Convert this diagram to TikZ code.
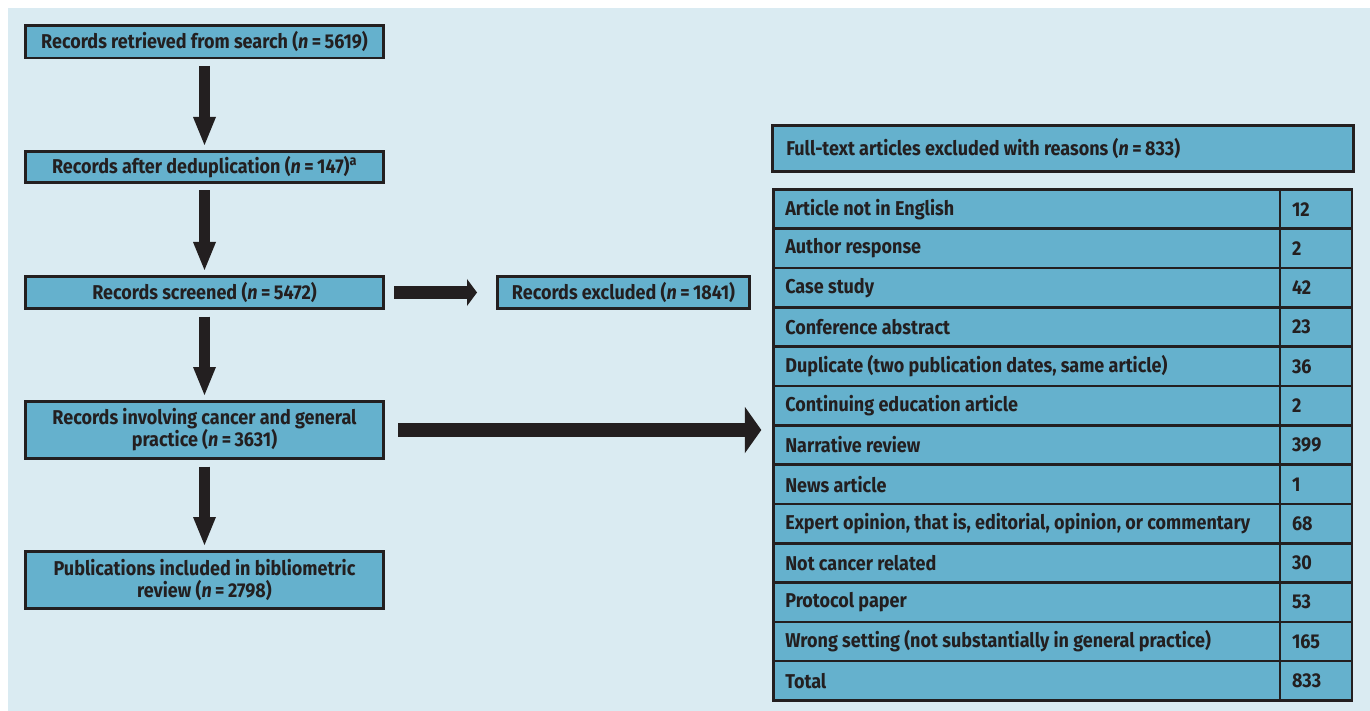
\documentclass[tikz,border=0pt]{standalone}
\usepackage{fontspec}
\setmainfont{Fira Sans}[FakeStretch=0.9]
\usetikzlibrary{arrows.meta}
\definecolor{panel}{RGB}{218,235,242}
\definecolor{boxfill}{RGB}{101,177,205}
\definecolor{ink}{RGB}{35,31,32}
\newcommand{\nval}[1]{(\textit{n}\kern3.5pt=\kern3.5pt#1)}
\newcommand{\rowtext}[2][482.7pt]{\hbox to #1{#2\hss}}
\tikzset{
  box/.style={draw=ink, fill=boxfill, line width=2.6pt, text=ink, align=center,
    inner sep=0pt, font=\bfseries\fontsize{20}{22}\selectfont},
  cell/.style={box, outer sep=0pt, inner xsep=12pt, minimum width=506.7pt,
    minimum height=39.3pt},
  numcell/.style={box, outer sep=0pt, minimum width=72pt, minimum height=39.3pt,
    text width=48pt, align=left},
  downarrow/.style={draw=ink, line width=11.5pt, shorten <=6.5pt, shorten >=5pt,
    -{Triangle[width=23pt, length=28pt, line width=0pt]}},
}
\begin{document}
\begin{tikzpicture}[x=1pt, y=-1pt]
		%%%%% PANEL %%%%%
		\useasboundingbox (0,0) rectangle (1370,711);
		\fill[panel] (8,8) rectangle (1370,711);
		
		%%%%% FLOW %%%%%
		\node[box, minimum width=358.4pt, minimum height=32.4pt] (retrieved) at (204.5,41.8) {Records retrieved from search \nval{5619}};
		\node[box, minimum width=358.4pt, minimum height=31.4pt] (dedup) at (204.5,167) {Records after deduplication \nval{147}\textsuperscript{a}};
		\node[box, minimum width=358.4pt, minimum height=32.4pt] (screened) at (204.5,292.5) {Records screened \nval{5472}};
		\node[box, minimum width=358.4pt, minimum height=57.4pt] (involving) at (204.5,430) {Records involving cancer and general\\practice \nval{3631}};
		\node[box, minimum width=358.4pt, minimum height=57.4pt] (included) at (204.5,580) {Publications included in bibliometric\\review \nval{2798}};
		\node[box, minimum width=252.4pt, minimum height=32.4pt] (excluded) at (623.5,292.5) {Records excluded \nval{1841}};
		
		\draw[downarrow] (retrieved) -- (dedup);
		\draw[downarrow] (dedup) -- (screened);
		\draw[downarrow] (screened) -- (involving);
		\draw[downarrow] (involving) -- (included);
		
		\draw[draw=ink, line width=12.6pt, shorten <=9pt, shorten >=19pt,
		  -{Triangle[width=27pt, length=10pt, line width=0pt]}] (screened) -- (excluded);
		
		%%%%% REASONS %%%%%
		\node[box, inner xsep=14pt, minimum width=581.4pt, minimum height=46pt] (reasons) at (1063,148.4) {\rowtext[553.4pt]{Full-text articles excluded with reasons \nval{833}}};
		
		\node[cell] (c1) at (1026.65,209.15) {\rowtext{Article not in English}};
		\node[numcell] (v1) at (1316,209.15) {12};
		\node[cell] (c2) at (1026.65,248.45) {\rowtext{Author response}};
		\node[numcell] (v2) at (1316,248.45) {2};
		\node[cell] (c3) at (1026.65,287.75) {\rowtext{Case study}};
		\node[numcell] (v3) at (1316,287.75) {42};
		\node[cell] (c4) at (1026.65,327.05) {\rowtext{Conference abstract}};
		\node[numcell] (v4) at (1316,327.05) {23};
		\node[cell] (c5) at (1026.65,366.35) {\rowtext{Duplicate (two publication dates, same article)}};
		\node[numcell] (v5) at (1316,366.35) {36};
		\node[cell] (c6) at (1026.65,405.65) {\rowtext{Continuing education article}};
		\node[numcell] (v6) at (1316,405.65) {2};
		\node[cell] (c7) at (1026.65,444.95) {\rowtext{Narrative review}};
		\node[numcell] (v7) at (1316,444.95) {399};
		\node[cell] (c8) at (1026.65,484.25) {\rowtext{News article}};
		\node[numcell] (v8) at (1316,484.25) {1};
		\node[cell] (c9) at (1026.65,523.55) {\rowtext{Expert opinion, that is, editorial, opinion, or commentary}};
		\node[numcell] (v9) at (1316,523.55) {68};
		\node[cell] (c10) at (1026.65,562.85) {\rowtext{Not cancer related}};
		\node[numcell] (v10) at (1316,562.85) {30};
		\node[cell] (c11) at (1026.65,602.15) {\rowtext{Protocol paper}};
		\node[numcell] (v11) at (1316,602.15) {53};
		\node[cell] (c12) at (1026.65,641.45) {\rowtext{Wrong setting (not substantially in general practice)}};
		\node[numcell] (v12) at (1316,641.45) {165};
		\node[cell] (c13) at (1026.65,680.75) {\rowtext{Total}};
		\node[numcell] (v13) at (1316,680.75) {833};
		
		\coordinate (tablein) at (c7.west |- involving.east);
		\draw[draw=ink, line width=14.5pt, shorten <=13pt, shorten >=12pt,
		  -{Triangle[width=46.5pt, length=16.5pt, line width=0pt]}] (involving.east) -- (tablein);
		
		%%%%% END %%%%%
	\end{tikzpicture}
\end{document}
